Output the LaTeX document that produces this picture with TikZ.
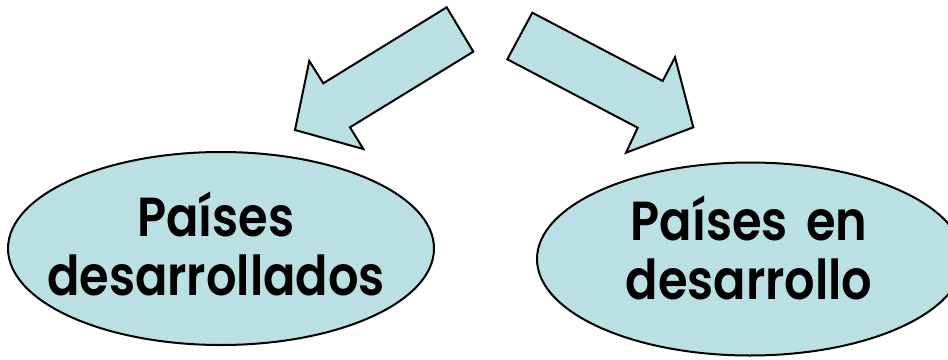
\documentclass[tikz,border=0pt]{standalone}
\usepackage{fontspec}
\setmainfont{Poppins}[FakeStretch=0.87, BoldFont={Poppins SemiBold}, WordSpace=1.6]
\usetikzlibrary{shapes.geometric}
\definecolor{paleblue}{HTML}{BBE0E3}
\tikzset{
  blob/.style={draw=black, line width=2pt, fill=paleblue, line join=miter},
  oval/.style={ellipse, draw=black, line width=2pt, fill=paleblue, minimum width=426pt, minimum height=193pt, inner sep=0pt},
  label/.style={align=center, font=\fontsize{55}{59}\selectfont\bfseries, inner sep=0pt}
}
\begin{document}
\begin{tikzpicture}[x=1pt,y=-1pt]
\useasboundingbox (0,0) rectangle (948,359);
\clip (0,0) rectangle (948,359);
% arrows
\draw[blob] (446.7,7.3) -- (473.3,51.7) -- (350,127.3) -- (363.3,149) -- (295,130) -- (309.3,61) -- (323.3,83.3) -- cycle;
\draw[blob] (532.3,12.7) -- (507.3,59.3) -- (637.7,127.7) -- (626,152.7) -- (693.3,127.3) -- (675,57.3) -- (662.7,81) -- cycle;
% ellipses
\node[oval] (dev) at (221,248.5) {};
\node[oval] (devg) at (750,259) {};
\node[label] (devt) at (216,244) {Países\\desarrollados};
\node[label] (devgt) at (749,248) {Países en\\desarrollo};
\end{tikzpicture}
\end{document}
